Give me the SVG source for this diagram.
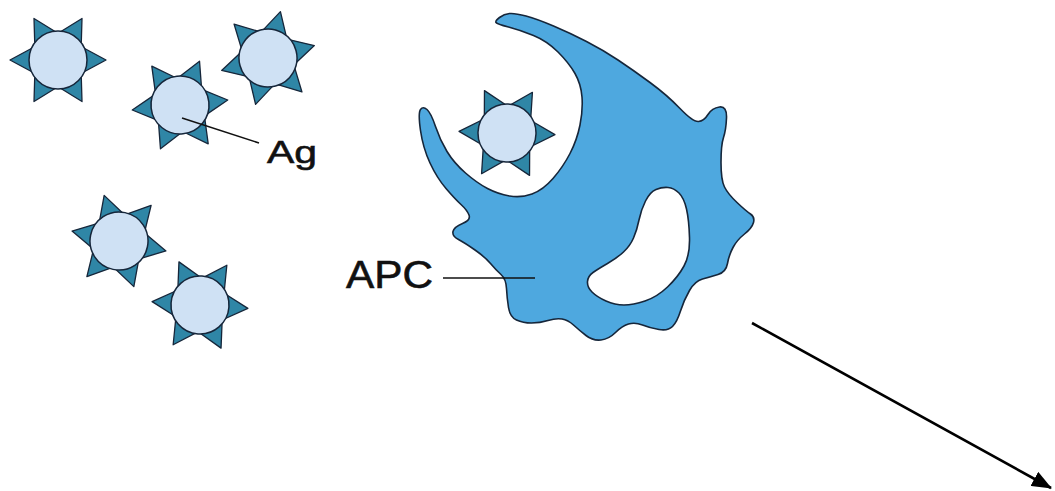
<svg xmlns="http://www.w3.org/2000/svg" xmlns:xlink="http://www.w3.org/1999/xlink" width="1055" height="491" viewBox="0 0 1055 491">
  <style>
    .cell { fill: #4ea8df; stroke: #16263a; stroke-width: 1.6; stroke-linejoin: round; }
    .hole { fill: #ffffff; stroke: #16263a; stroke-width: 1.6; }
    .body { fill: #cfe1f4; stroke: #16263a; stroke-width: 1.5; }
    .spike { fill: #2f86a6; stroke: #16263a; stroke-width: 1.3; stroke-linejoin: round; }
    .leader { stroke: #111; stroke-width: 1.5; fill: none; }
    .label { font-family: "Liberation Sans", Arial, sans-serif; fill: #111; stroke: #111; stroke-width: 0.6; }
    .arrow { stroke: #000; stroke-width: 2.6; fill: none; }
  </style>
  <defs>
    <!-- antigen particle: round body with six triangular spikes -->
    <g id="antigen">
      <polygon class="spike" points="48,0 22,-14 22,14"/>
      <polygon class="spike" points="48,0 22,-14 22,14" transform="rotate(60)"/>
      <polygon class="spike" points="48,0 22,-14 22,14" transform="rotate(120)"/>
      <polygon class="spike" points="48,0 22,-14 22,14" transform="rotate(180)"/>
      <polygon class="spike" points="48,0 22,-14 22,14" transform="rotate(240)"/>
      <polygon class="spike" points="48,0 22,-14 22,14" transform="rotate(300)"/>
      <circle class="body" cx="0" cy="0" r="29"/>
    </g>
    <marker id="head" viewBox="0 0 20 16" refX="19" refY="8" markerWidth="20" markerHeight="16" orient="auto" markerUnits="userSpaceOnUse">
      <path d="M0,0 L20,8 L0,16 Z" fill="#000"/>
    </marker>
  </defs>

  <rect width="1055" height="491" fill="#ffffff"/>

  <!-- antigen-presenting cell -->
  <g id="apc">
    <path class="cell" d="M496,22.5 Q495,21 499.5,17.5 Q504,14 509.5,13.5 Q515,13 526,16 Q537,19 553.5,26 Q570,33 586.5,41.5 Q603,50 618,60 Q633,70 650,82.5 Q667,95 680,108.5 Q693,122 698.5,121.5 Q704,121 708,114.5 Q712,108 719.5,107 Q727,106 726.5,118 Q726,130 723.5,137.5 Q721,145 721,162.5 Q721,180 724.5,187 Q728,194 737,202.5 Q746,211 750.5,214 Q755,217 753.5,222.5 Q752,228 744.5,234 Q737,240 733,247.5 Q729,255 727.5,263.5 Q726,272 718,274.5 Q710,277 702.5,279 Q695,281 689.5,290.5 Q684,300 680.5,311 Q677,322 672.5,326.5 Q668,331 659,329.5 Q650,328 642.5,325 Q635,322 628.5,324 Q622,326 615.5,332.5 Q609,339 601,340 Q593,341 586,335.5 Q579,330 573.5,325 Q568,320 562,319 Q556,318 548,320.5 Q540,323 531.5,323 Q523,323 516.5,320 Q510,317 508.5,307.5 Q507,298 506.5,288.5 Q506,279 501,274.5 Q496,270 490.5,263.5 Q485,257 475,250 Q465,243 458.5,239.5 Q452,236 453,231.5 Q454,227 462.5,223.5 Q471,220 469,215 Q467,210 461,204.5 Q455,199 446,188.5 Q437,178 430,163 Q423,148 420.5,130.5 Q418,113 420.5,109.5 Q423,106 427,109.5 Q431,113 435.5,126.5 Q440,140 447,151.5 Q454,163 465.5,173 Q477,183 487.5,188.5 Q498,194 509.5,196 Q521,198 532,194 Q543,190 553,178.5 Q563,167 570,153.5 Q577,140 580,125 Q583,110 582,97 Q581,84 575,73.5 Q569,63 558,52 Q547,41 533.5,35.5 Q520,30 508.5,27 Q497,24 496,22.5 Z"/>
    <path class="hole" d="M656,189.5 Q662,187 668,187.5 Q674,188 679,193 Q684,198 686.5,209 Q689,220 689.5,237.5 Q690,255 684,266 Q678,277 667.5,287 Q657,297 645,301 Q633,305 624,305 Q615,305 606,301 Q597,297 592,292 Q587,287 587.5,281.5 Q588,276 593,272.5 Q598,269 607.5,263.5 Q617,258 623.5,252 Q630,246 633.5,238 Q637,230 639,220 Q641,210 645.5,201 Q650,192 656,189.5 Z"/>
  </g>

  <!-- free antigens -->
  <g id="ag1"><use xlink:href="#antigen" transform="translate(58,60)"/></g>
  <g id="ag2"><use xlink:href="#antigen" transform="translate(268,58) rotate(-15)"/></g>
  <g id="ag3"><use xlink:href="#antigen" transform="translate(180,105) rotate(-6)"/></g>
  <g id="ag4"><use xlink:href="#antigen" transform="translate(119,241) rotate(12)"/></g>
  <g id="ag5"><use xlink:href="#antigen" transform="translate(200,305) rotate(4)"/></g>
  <!-- antigen being engulfed -->
  <g id="ag6"><use xlink:href="#antigen" transform="translate(507,133) rotate(2)"/></g>

  <!-- labels -->
  <g id="label-ag">
    <text class="label" x="267" y="163" font-size="32" textLength="50" lengthAdjust="spacingAndGlyphs">Ag</text>
  </g>
  <g id="label-apc">
    <text class="label" x="346" y="288" font-size="38" textLength="87" lengthAdjust="spacingAndGlyphs">APC</text>
  </g>

  <!-- connectors -->
  <g id="connectors">
    <line class="leader" x1="182" y1="118" x2="259" y2="143"/>
    <line class="leader" x1="443" y1="278" x2="535" y2="278"/>
    <line class="arrow" x1="752" y1="323" x2="1051" y2="488" marker-end="url(#head)"/>
  </g>
</svg>
